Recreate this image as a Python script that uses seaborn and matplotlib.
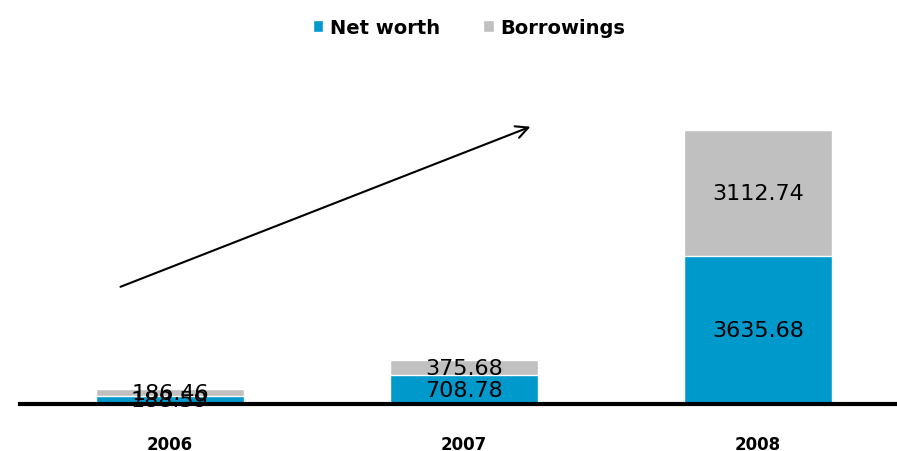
import matplotlib
matplotlib.use("Agg")
import matplotlib.pyplot as plt
from matplotlib.patches import Patch
import seaborn as sns
import pandas as pd

years = ["2006", "2007", "2008"]
net_worth = [188.59, 708.78, 3635.68]
borrowings = [186.46, 375.68, 3112.74]

BLUE = "#0099CC"
GREY = "#C0C0C0"

sns.set_theme(style="white")
plt.rcParams["font.family"] = ["DejaVu Sans"]

df = pd.DataFrame({"year": years, "net": net_worth, "borrow": borrowings})
df["total"] = df["net"] + df["borrow"]

fig = plt.figure(figsize=(8.97, 4.52), dpi=100)
ax = fig.add_axes([0.0, 0.104, 1.0, 0.746])

sns.barplot(data=df, x="year", y="total", color=GREY, width=0.503,
            edgecolor="white", linewidth=1, saturation=1, ax=ax)
sns.barplot(data=df, x="year", y="net", color=BLUE, width=0.503,
            edgecolor="white", linewidth=1, saturation=1, ax=ax)

ax.set_xlim(-0.578, 2.473)
ax.set_ylim(0, 8300)

for i, (n, b) in enumerate(zip(net_worth, borrowings)):
    ax.text(i, n / 2, f"{n:.2f}", ha="center", va="center", fontsize=16, color="black")
    ax.text(i, n + b / 2, f"{b:.2f}", ha="center", va="center", fontsize=16, color="black")

ax.annotate("", xy=(1.235, 6850), xytext=(-0.177, 2860),
            arrowprops=dict(arrowstyle="->", color="black", lw=1.5, mutation_scale=22))

ax.set_xlabel("")
ax.set_ylabel("")
ax.set_yticks([])
for s in ["top", "right", "left"]:
    ax.spines[s].set_visible(False)
ax.spines["bottom"].set_color("black")
ax.spines["bottom"].set_linewidth(3)
ax.spines["bottom"].set_bounds(-0.51, 2.473)
ax.tick_params(axis="x", length=0, pad=22)
for lbl in ax.get_xticklabels():
    lbl.set_fontweight("bold")
    lbl.set_fontsize(12)
    lbl.set_color("black")

handles = [Patch(facecolor=BLUE, label="Net worth"), Patch(facecolor=GREY, label="Borrowings")]
leg = fig.legend(handles=handles, loc="center", bbox_to_anchor=(0.523, 0.938), ncol=2, frameon=False,
                 handlelength=0.55, handleheight=0.55, handletextpad=0.35, columnspacing=2.2,
                 prop={"weight": "bold", "size": 14})
for t in leg.get_texts():
    t.set_color("black")

fig.savefig("out.png", dpi=100)
